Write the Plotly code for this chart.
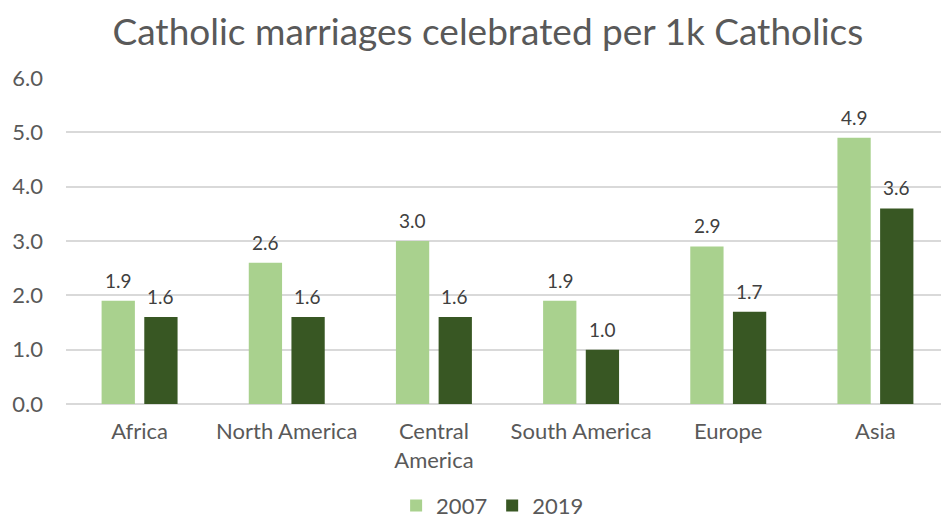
import plotly.graph_objects as go

categories = ["Africa", "North America", "Central<br>America", "South America", "Europe", "Asia"]
values_2007 = [1.9, 2.6, 3.0, 1.9, 2.9, 4.9]
values_2019 = [1.6, 1.6, 1.6, 1.0, 1.7, 3.6]
series_names = ["2007", "2019"]
colors = ["#a9d18e", "#385723"]
y_ticks = [0, 1, 2, 3, 4, 5, 6]

FONT = "Lato, 'Open Sans', sans-serif"
GRAY = "#595959"

fig = go.Figure()
for name, vals, col in zip(series_names, [values_2007, values_2019], colors):
    fig.add_trace(go.Bar(name=name, x=categories, y=vals, marker_color=col,
                         marker_line_width=0, hoverinfo="x+y"))

annotations = []
for vals, shift in [(values_2007, -21), (values_2019, 21)]:
    for c, v in zip(categories, vals):
        annotations.append(dict(x=c, y=v, text=f"{v:.1f}", showarrow=False,
                                xshift=shift, yshift=7, yanchor="bottom",
                                font=dict(family=FONT, size=19, color="#404040")))

# page body adds an 8px margin, so the figure is sized to fit the 949x519 window
fig.update_layout(
    width=941, height=511,
    margin=dict(l=58, r=0, t=70, b=115),
    paper_bgcolor="white", plot_bgcolor="white",
    title=dict(text="Catholic marriages celebrated per 1k Catholics",
               x=0.51, xanchor="center", xref="container",
               y=0.952, yanchor="middle", yref="container",
               font=dict(family=FONT, size=37, color=GRAY)),
    barmode="group", bargap=0.42, bargroupgap=0.22,
    showlegend=True,
    legend=dict(orientation="h", x=0.515, xanchor="center", xref="container",
                y=0.026, yanchor="middle", yref="container",
                font=dict(family=FONT, size=22, color=GRAY),
                itemwidth=30, traceorder="normal"),
    annotations=annotations,
    font=dict(family=FONT, color=GRAY),
)
fig.update_xaxes(tickfont=dict(family=FONT, size=22, color=GRAY),
                 showgrid=False, showline=False, ticks="", ticklen=0,
                 ticklabelstandoff=12)
fig.update_yaxes(range=[0, 6], tickvals=y_ticks, ticktext=[f"{t:.1f}" for t in y_ticks],
                 tickfont=dict(family=FONT, size=22, color=GRAY),
                 showgrid=True, gridcolor="#d9d9d9", gridwidth=1.5,
                 zeroline=True, zerolinecolor="#d9d9d9", zerolinewidth=1.5,
                 showline=False, ticks="", ticklabelstandoff=22)

fig.write_html("out.html")
